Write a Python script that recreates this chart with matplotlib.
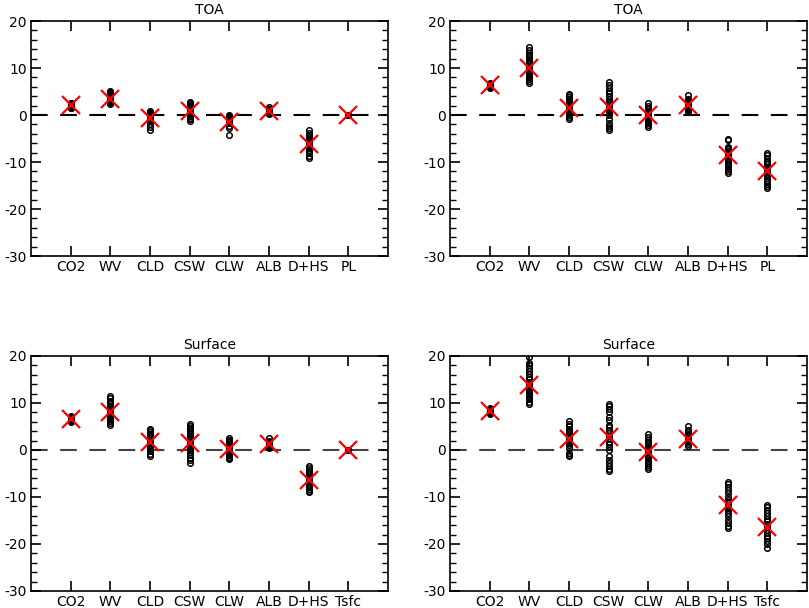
import matplotlib
matplotlib.use('Agg')
import matplotlib.pyplot as plt
from matplotlib.ticker import MultipleLocator

plt.rcParams['axes.unicode_minus'] = False

# categorias
cats_toa = ['CO2', 'WV', 'CLD', 'CSW', 'CLW', 'ALB', 'D+HS', 'PL']
cats_sfc = ['CO2', 'WV', 'CLD', 'CSW', 'CLW', 'ALB', 'D+HS', 'Tsfc']

######### painel superior esquerdo (TOA)
toa_a = [
    [1.5, 1.7, 1.8, 1.9, 2.0, 2.0, 2.1, 2.1, 2.2, 2.2, 2.3, 2.4, 2.5, 2.6, 1.6, 2.0, 2.3, 1.9],
    [2.3, 2.5, 2.8, 3.0, 3.2, 3.3, 3.5, 3.6, 3.8, 4.0, 4.2, 4.4, 4.6, 4.8, 5.0, 5.2, 2.7, 3.1],
    [0.8, 0.6, 0.4, 0.2, 0.0, -0.2, -0.4, -0.6, -0.8, -1.0, 0.5, 0.1, -0.3, -1.2, -2.0, -2.5, -3.1],
    [2.8, 2.5, 2.2, 2.0, 1.8, 1.5, 1.2, 1.0, 0.8, 0.5, 0.2, 0.0, -0.3, -0.6, -0.9, -1.2, 2.6, 1.4],
    [0.0, -0.2, -0.4, -0.6, -0.8, -1.0, -1.2, -1.4, -1.6, -0.1, -0.5, -0.9, -1.3, -2.4, -2.7, -4.2],
    [0.3, 0.5, 0.6, 0.7, 0.8, 0.9, 1.0, 1.1, 1.2, 1.3, 0.8, 0.6, 1.8],
    [-3.1, -3.8, -4.3, -4.7, -5.0, -5.3, -5.6, -5.9, -6.2, -6.5, -6.8, -7.1, -7.4, -7.7, -8.0, -8.8, -9.2],
    [0.0, 0.0, 0.0, 0.0, 0.0],
]
toa_a_mean = [2.1, 3.4, -0.6, 0.8, -1.4, 0.8, -6.2, 0.0]

######### painel superior direito (TOA)
toa_b = [
    [5.8, 5.9, 6.0, 6.1, 6.2, 6.3, 6.3, 6.4, 6.5, 6.6, 6.7, 6.8, 6.1, 6.4],
    [6.8, 7.2, 7.6, 8.0, 8.4, 8.8, 9.2, 9.6, 10.0, 10.4, 10.8, 11.3, 11.8, 12.3, 12.8, 13.3, 13.8, 14.5, 9.0, 10.2],
    [-0.8, -0.4, 0.0, 0.4, 0.8, 1.2, 1.5, 1.8, 2.1, 2.4, 2.7, 3.0, 3.4, 3.8, 4.2, 4.5, 1.0, 2.0],
    [-3.2, -2.8, -2.3, -1.8, -0.8, 0.0, 0.6, 1.0, 1.4, 1.8, 2.2, 2.6, 3.0, 3.5, 4.0, 4.6, 5.2, 5.8, 6.4, 7.0],
    [-2.6, -2.2, -1.8, -1.4, -1.0, -0.6, -0.3, 0.0, 0.3, 0.6, 0.9, 1.2, 1.6, 2.0, 2.5, -0.8, 0.5],
    [0.7, 1.0, 1.3, 1.6, 1.9, 2.1, 2.3, 2.5, 2.8, 3.1, 3.4, 4.2, 1.5, 2.2],
    [-5.0, -5.4, -6.8, -7.2, -7.6, -8.0, -8.4, -8.8, -9.2, -9.6, -10.0, -10.4, -10.8, -11.4, -11.9, -12.4, -7.0, -8.6],
    [-8.1, -8.6, -9.2, -9.8, -10.4, -11.0, -11.5, -12.0, -12.5, -13.0, -13.5, -14.0, -14.6, -15.1, -15.6, -10.0, -12.2],
]
toa_b_mean = [6.3, 10.0, 1.6, 1.8, 0.0, 2.1, -8.6, -12.0]

######### painel inferior esquerdo (Surface)
sfc_a = [
    [6.0, 6.2, 6.3, 6.4, 6.5, 6.6, 6.7, 6.8, 6.9, 7.0, 7.2, 6.5],
    [5.3, 5.7, 6.1, 6.5, 6.9, 7.3, 7.7, 8.1, 8.5, 8.9, 9.3, 9.7, 10.1, 10.5, 11.0, 11.4, 7.0, 8.0],
    [-1.3, -0.8, -0.3, 0.2, 0.6, 1.0, 1.4, 1.8, 2.2, 2.6, 3.0, 3.4, 3.8, 4.2, 4.5, 1.5],
    [-2.7, -2.2, -1.7, -1.0, -0.5, 0.0, 0.5, 1.0, 1.4, 1.8, 2.2, 2.6, 3.0, 3.4, 3.8, 4.2, 4.6, 5.0, 5.6, 1.6],
    [-2.0, -1.7, -1.4, -1.1, -0.8, -0.5, -0.2, 0.1, 0.4, 0.7, 1.0, 1.3, 1.6, 1.9, 2.2, 2.6, 0.0],
    [0.4, 0.6, 0.8, 1.0, 1.1, 1.2, 1.3, 1.4, 1.6, 1.8, 2.0, 2.6, 1.0],
    [-3.5, -3.9, -4.3, -4.7, -5.1, -5.5, -5.9, -6.3, -6.7, -7.1, -7.5, -7.9, -8.3, -8.7, -9.0, -6.0],
    [0.0, 0.0, 0.0, 0.0, 0.0],
]
sfc_a_mean = [6.6, 8.0, 1.8, 1.5, 0.2, 1.3, -6.3, 0.0]

######### painel inferior direito (Surface)
sfc_b = [
    [7.6, 7.8, 8.0, 8.1, 8.2, 8.3, 8.4, 8.5, 8.6, 8.8, 9.0, 8.2],
    [9.8, 10.3, 10.8, 11.3, 11.8, 12.3, 12.8, 13.3, 13.8, 14.4, 15.0, 15.6, 16.2, 16.8, 17.4, 18.0, 18.6, 19.8, 12.0, 14.0],
    [-1.3, -1.0, -0.6, 0.4, 1.0, 1.5, 2.0, 2.4, 2.8, 3.2, 3.6, 4.0, 4.5, 5.0, 5.6, 6.2, 2.2, 2.6],
    [-4.5, -4.0, -3.4, -2.8, -2.2, -1.2, 0.0, 0.6, 1.2, 1.8, 2.4, 3.0, 3.6, 4.2, 4.8, 5.4, 6.4, 7.0, 8.0, 8.8, 9.4, 9.8],
    [-4.0, -3.6, -3.2, -2.8, -2.3, -1.8, -1.3, -0.8, -0.3, 0.2, 0.7, 1.2, 1.7, 2.2, 2.7, 3.3, -0.5],
    [0.9, 1.3, 1.7, 2.0, 2.3, 2.6, 2.9, 3.2, 3.5, 3.8, 4.2, 5.1, 2.0],
    [-6.9, -7.3, -7.8, -8.5, -9.2, -9.9, -10.6, -11.3, -12.0, -12.7, -13.4, -14.1, -14.8, -15.5, -16.2, -16.7, -11.0, -12.4],
    [-11.8, -12.2, -12.8, -13.4, -14.0, -14.6, -15.2, -15.8, -16.4, -17.0, -17.6, -18.2, -18.8, -19.4, -20.0, -20.8, -16.0],
]
sfc_b_mean = [8.3, 13.8, 2.4, 2.7, -0.5, 2.3, -11.7, -16.4]


def painel(ax, dados, medias, cats, titulo, cor_zero):
    ax.axhline(0, color=cor_zero, lw=1.5, ls=(0, (8, 6)), zorder=1)
    for i, vals in enumerate(dados):
        ax.plot([i + 1] * len(vals), vals, 'o', mfc='none', mec='k', ms=4, mew=1.1, zorder=2)
        ax.plot(i + 1, medias[i], 'x', color='red', ms=13, mew=1.6, zorder=3)
    ax.set_xlim(0, 9)
    ax.set_ylim(-30, 20)
    ax.set_xticks(range(1, 9))
    ax.set_xticklabels(cats)
    ax.yaxis.set_major_locator(MultipleLocator(10))
    ax.yaxis.set_minor_locator(MultipleLocator(2))
    ax.tick_params(axis='both', which='major', direction='in', length=7, width=1.2,
                   top=True, right=True, labelsize=10)
    ax.tick_params(axis='y', which='minor', direction='in', length=4, width=1.0, right=True)
    ax.tick_params(axis='x', pad=3)
    ax.tick_params(axis='y', pad=3)
    for s in ax.spines.values():
        s.set_linewidth(1.2)
    ax.set_title(titulo, fontsize=10, pad=5)


fig = plt.figure(figsize=(8.09, 6.08), dpi=100)
ax1 = fig.add_axes([0.0383, 0.5789, 0.4413, 0.3865])
ax2 = fig.add_axes([0.5562, 0.5789, 0.4413, 0.3865])
ax3 = fig.add_axes([0.0383, 0.0280, 0.4413, 0.3865])
ax4 = fig.add_axes([0.5562, 0.0280, 0.4413, 0.3865])

painel(ax1, toa_a, toa_a_mean, cats_toa, 'TOA', 'k')
painel(ax2, toa_b, toa_b_mean, cats_toa, 'TOA', 'k')
painel(ax3, sfc_a, sfc_a_mean, cats_sfc, 'Surface', '#444444')
painel(ax4, sfc_b, sfc_b_mean, cats_sfc, 'Surface', '#444444')

fig.savefig('out.png', dpi=100)
